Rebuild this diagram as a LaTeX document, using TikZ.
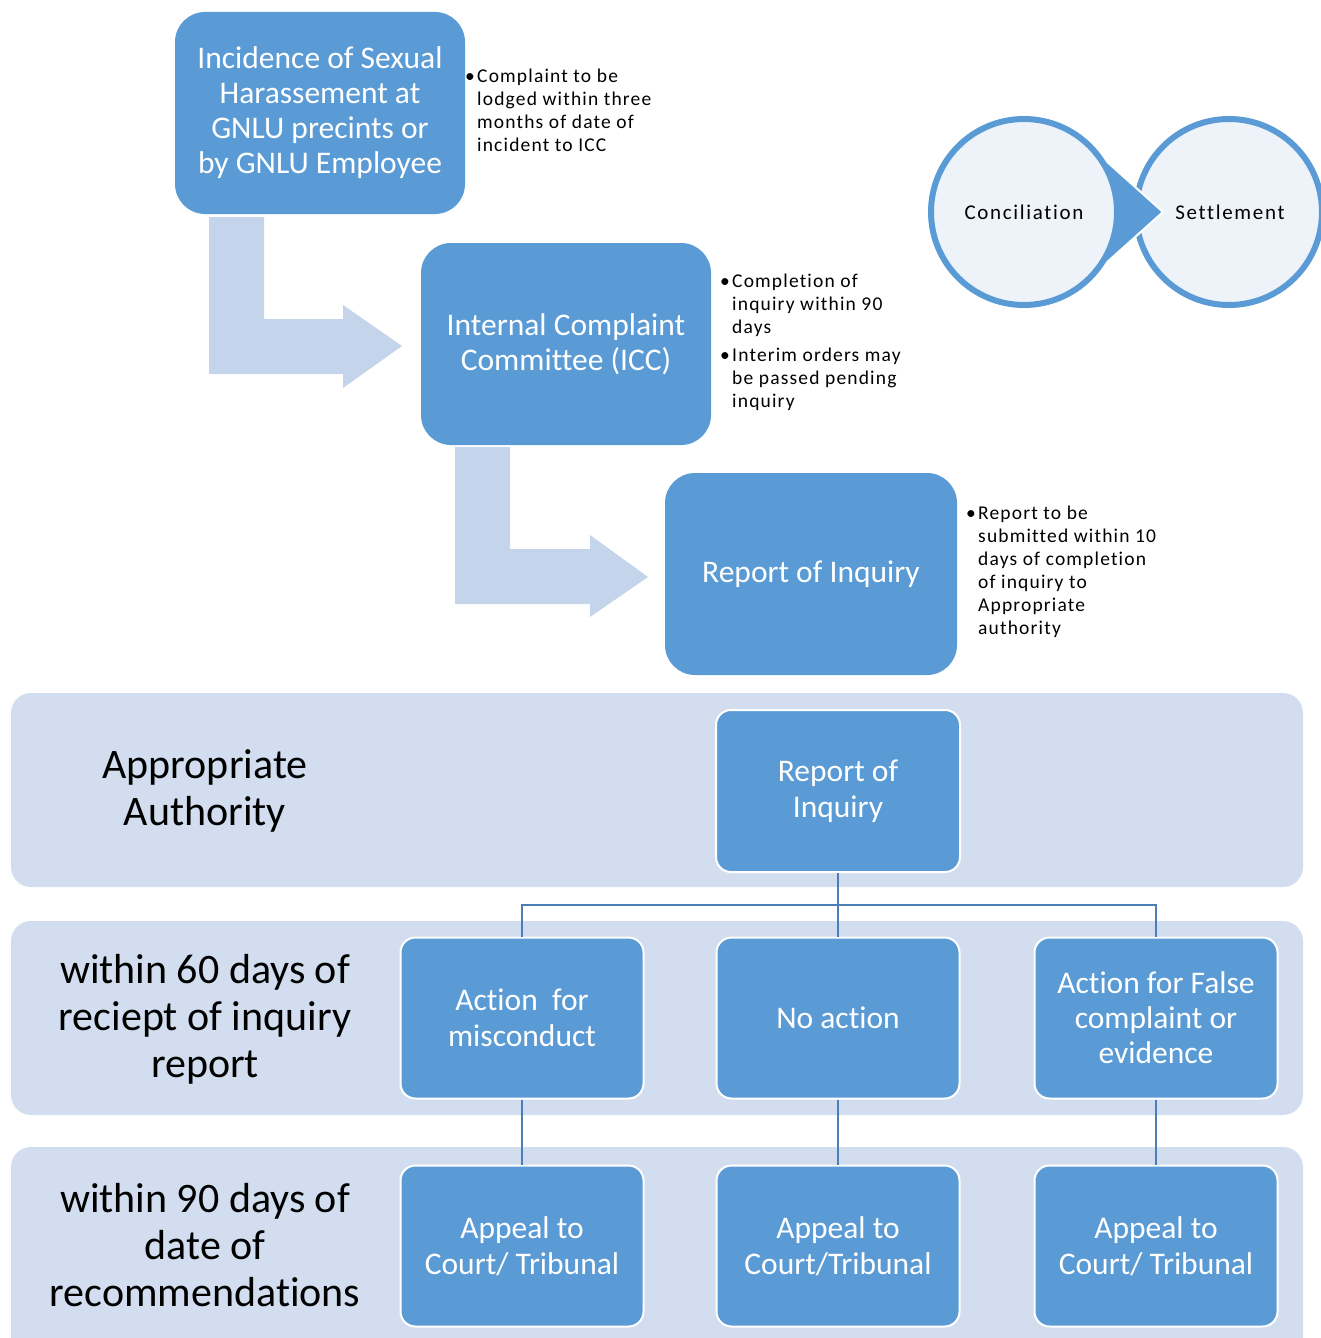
\documentclass[tikz,border=0pt]{standalone}
\usepackage{fontspec}
\setmainfont{Carlito}[Ligatures=NoCommon]
\newfontfamily\spacedA[LetterSpace=6,Ligatures=NoCommon]{Carlito}
\newfontfamily\spacedB[LetterSpace=8,Ligatures=NoCommon]{Carlito}
\definecolor{mainblue}{HTML}{5B9BD5}
\definecolor{arrowblue}{HTML}{C4D5EB}
\definecolor{bandblue}{HTML}{D2DEEF}
\definecolor{circfill}{HTML}{EEF3FA}
\definecolor{linkblue}{HTML}{4A7EB5}
\begin{document}
\begin{tikzpicture}[x=1pt,y=-1pt,
  bigbox/.style={rectangle,rounded corners=30pt,fill=mainblue,text=white,align=center,
    minimum width=290pt,minimum height=202pt,inner sep=0pt,font=\fontsize{31.5}{35}\selectfont},
  smallbox/.style={rectangle,rounded corners=15pt,fill=mainblue,draw=white,line width=2pt,text=white,
    align=center,minimum width=243pt,minimum height=161pt,inner sep=0pt,font=\fontsize{31.5}{36}\selectfont},
  bandlabel/.style={align=center,text=black,inner sep=0pt,font=\fontsize{42}{47}\selectfont},
  notes/.style={anchor=north west,inner sep=0pt,text=black,font=\spacedA\fontsize{19.5}{23}\selectfont},
  circ/.style={circle,minimum size=186pt,fill=circfill,draw=mainblue,line width=6pt,inner sep=0pt,
    font=\spacedB\fontsize{21}{24}\selectfont},
  band/.style={fill=bandblue,rounded corners=20pt},
  link/.style={draw=linkblue,line width=2pt}]
\useasboundingbox (0,0) rectangle (1321,1338);

% bent arrows
\fill[arrowblue] (209,217) -- (264,217) -- (264,319) -- (343,319) -- (343,305) -- (402,346)
  -- (343,388) -- (343,374) -- (209,374) -- cycle;
\fill[arrowblue] (455,447) -- (510,447) -- (510,549) -- (590,549) -- (590,535) -- (648,577)
  -- (590,617) -- (590,604) -- (455,604) -- cycle;

% top boxes
\node[bigbox] (inc) at (320,113) {Incidence of Sexual\\Harassement at\\GNLU precints or\\by GNLU Employee};
\node[bigbox] (icc) at (566,344) {Internal Complaint\\Committee (ICC)};
\node[bigbox,minimum width=292pt] (roi) at (811,574) {Report of Inquiry};

% notes
\node[notes] (n1) at (465,66) {\begin{tabular}{@{}l@{}l@{}}\makebox[12pt][l]{•}&Complaint to be\\&lodged within three\\&months of date of\\&incident to ICC\end{tabular}};
\node[notes] (n2) at (720,271) {\begin{tabular}{@{}l@{}l@{}}\makebox[12pt][l]{•}&Completion of\\&inquiry within 90\\&days\\[5pt]\makebox[12pt][l]{•}&Interim orders may\\&be passed pending\\&inquiry\end{tabular}};
\node[notes] (n3) at (966,503) {\begin{tabular}{@{}l@{}l@{}}\makebox[12pt][l]{•}&Report to be\\&submitted within 10\\&days of completion\\&of inquiry to\\&Appropriate\\&authority\end{tabular}};

% circles
\node[circ] (set) at (1229,212) {\hspace*{2pt}Settlement};
\fill[mainblue,draw=white,line width=2pt] (1086,143) -- (1163,212) -- (1086,281) -- cycle;
\node[circ] (con) at (1024,212) {Conciliation};

% bands
\fill[band] (11,693) rectangle (1303,887);
\fill[band] (11,921) rectangle (1303,1115);
\fill[band] (11,1147) rectangle (1303,1360);

\node[bandlabel] (l1) at (205,791) {Appropriate\\Authority};
\node[bandlabel] (l2) at (205,1019) {within 60 days of\\reciept of inquiry\\report};
\node[bandlabel] (l3) at (205,1245) {within 90 days of\\date of\\recommendations};

% band boxes
\node[smallbox,minimum width=244pt,minimum height=162pt] (rep) at (838,791) {Report of\\Inquiry};
\node[smallbox] (a1) at (522,1018) {Action\ \ for\\misconduct};
\node[smallbox] (a2) at (838,1018) {No action};
\node[smallbox,font=\fontsize{31.5}{35}\selectfont] (a3) at (1156,1018) {Action for False\\complaint or\\evidence};
\node[smallbox] (b1) at (522,1246) {Appeal to\\Court/ Tribunal};
\node[smallbox] (b2) at (838,1246) {Appeal to\\Court/Tribunal};
\node[smallbox] (b3) at (1156,1246) {Appeal to\\Court/ Tribunal};

% connectors
\coordinate (bus) at (838,905);
\draw[link] (rep.south) -- (bus);
\draw[link] (bus) -| (a1.north);
\draw[link] (bus) -| (a3.north);
\draw[link] (bus) -- (a2.north);
\draw[link] (a1.south) -- (b1.north);
\draw[link] (a2.south) -- (b2.north);
\draw[link] (a3.south) -- (b3.north);
\end{tikzpicture}
\end{document}
